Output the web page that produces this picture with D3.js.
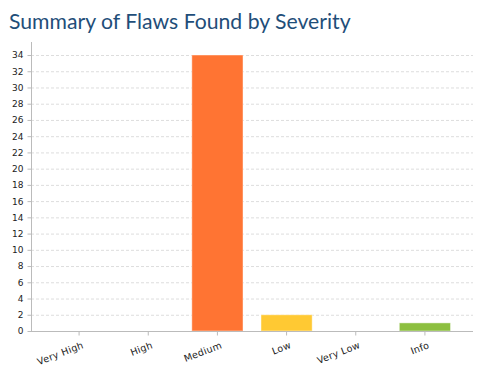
<!DOCTYPE html>
<html>
<head>
<meta charset="utf-8">
<script src="https://cdn.jsdelivr.net/npm/d3@7"></script>
<style>
  body { margin: 0; background: #fff; }
  .tick text { font-family: "DejaVu Sans", Verdana, sans-serif; font-size: 9px; fill: #222; }
</style>
</head>
<body>
<div id="chart"></div>
<script>
// chart data
const categories = ["Very High", "High", "Medium", "Low", "Very Low", "Info"];
const flawCounts = [0, 0, 34, 2, 0, 1];
const barColors = ["#e0403a", "#f06a2a", "#ff7433", "#ffc933", "#4f9fd6", "#8cbf3f"];
const yTicks = [0, 2, 4, 6, 8, 10, 12, 14, 16, 18, 20, 22, 24, 26, 28, 30, 32, 34];

const width = 494, height = 373;
const svg = d3.select("#chart").append("svg")
    .attr("width", width)
    .attr("height", height);

// title
svg.append("text")
    .attr("x", 9)
    .attr("y", 29)
    .attr("font-family", "Lato, sans-serif")
    .attr("font-size", "21.2px")
    .attr("fill", "#1f4e79")
    .text("Summary of Flaws Found by Severity");

const left = 31, right = 473, bottom = 331;

let x = d3.scaleBand().domain(categories).range([44.5, 459.5])
    .paddingInner(0.26).paddingOuter(0.13);
let y = d3.scaleLinear().domain([0, 34]).range([bottom, 55]);

// grid lines
svg.append("g")
    .selectAll("line")
    .data(yTicks.filter(d => d > 0))
    .enter().append("line")
    .attr("x1", left)
    .attr("x2", right)
    .attr("y1", d => y(d) + 0.5)
    .attr("y2", d => y(d) + 0.5)
    .attr("stroke", "#ddd")
    .attr("stroke-dasharray", "3,2");

// bars
svg.append("g")
    .selectAll("rect")
    .data(flawCounts)
    .enter().append("rect")
    .attr("x", (d, i) => x(categories[i]))
    .attr("y", d => y(d))
    .attr("width", x.bandwidth())
    .attr("height", d => y(0) - y(d))
    .attr("fill", (d, i) => barColors[i])
    .attr("stroke", "rgba(255,255,255,0.45)")
    .attr("stroke-width", 1)
    .style("display", d => d > 0 ? null : "none");

// y axis
const yAxis = svg.append("g")
    .attr("transform", "translate(" + (left + 0.5) + ",0)")
    .call(d3.axisLeft(y).tickValues(yTicks).tickSize(4).tickPadding(4));
yAxis.select(".domain").attr("stroke", "#bbb").attr("d", "M0," + 42 + "V" + (bottom + 0.5));
yAxis.selectAll(".tick line").attr("stroke", "#bbb");

// x axis
const xAxis = svg.append("g")
    .attr("transform", "translate(0," + (bottom + 0.5) + ")")
    .call(d3.axisBottom(x).tickSize(4).tickSizeOuter(0));
xAxis.select(".domain").attr("stroke", "#bbb").attr("d", "M" + left + ",0H" + right);
xAxis.selectAll(".tick line").attr("stroke", "#bbb");
xAxis.selectAll(".tick text")
    .style("font-size", "9.5px")
    .style("letter-spacing", "0.3px")
    .attr("text-anchor", "end")
    .attr("dx", "-1")
    .attr("dy", "17")
    .attr("y", 0)
    .attr("transform", "rotate(-21)");
</script>
</body>
</html>
